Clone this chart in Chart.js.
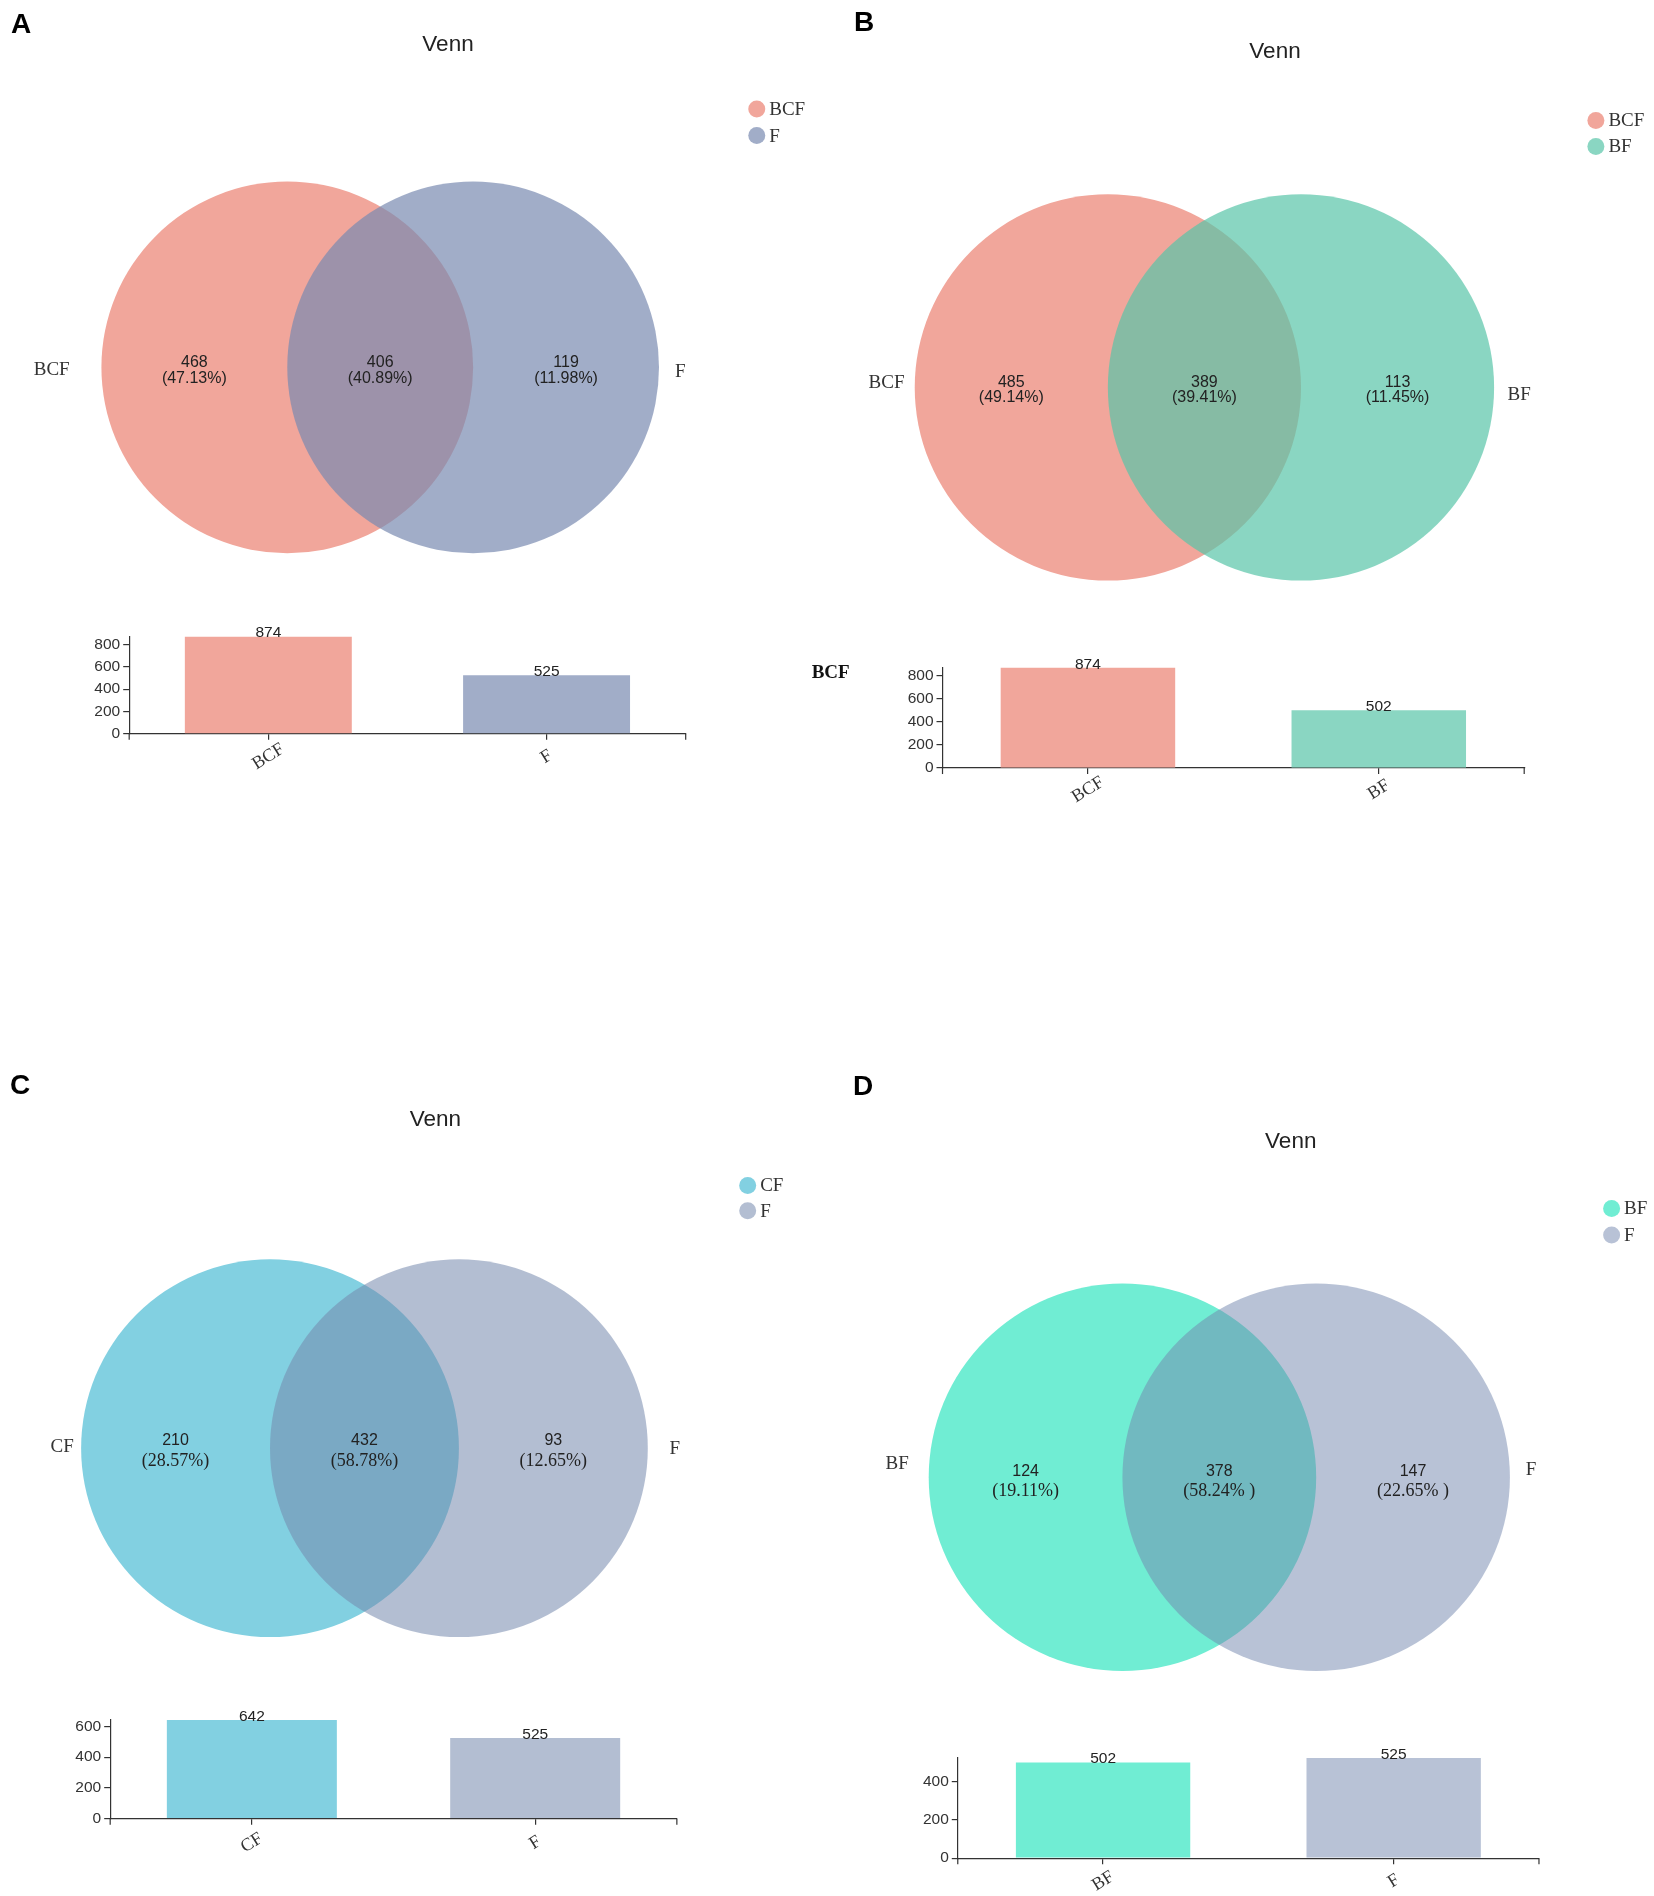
<!DOCTYPE html>
<html><head><meta charset="utf-8">
<script src="https://cdn.jsdelivr.net/npm/chart.js@4.4.1/dist/chart.umd.min.js"></script>
<style>
html,body{margin:0;padding:0;background:#fff;}
#root{position:relative;width:1654px;height:1896px;background:#fff;overflow:hidden;}
#root canvas{position:absolute;}
</style></head>
<body><div id="root"></div>
<script>
// ===== DATA =====
const setsA = ['BCF', 'F'];
const regionCountsA = [468, 406, 119];
const regionPctA = ['(47.13%)', '(40.89%)', '(11.98%)'];
const totalsA = [874, 525];
const yTicksA = [0, 200, 400, 600, 800];

const setsB = ['BCF', 'BF'];
const regionCountsB = [485, 389, 113];
const regionPctB = ['(49.14%)', '(39.41%)', '(11.45%)'];
const totalsB = [874, 502];
const yTicksB = [0, 200, 400, 600, 800];

const setsC = ['CF', 'F'];
const regionCountsC = [210, 432, 93];
const regionPctC = ['(28.57%)', '(58.78%)', '(12.65%)'];
const totalsC = [642, 525];
const yTicksC = [0, 200, 400, 600];

const setsD = ['BF', 'F'];
const regionCountsD = [124, 378, 147];
const regionPctD = ['(19.11%)', '(58.24% )', '(22.65% )'];
const totalsD = [502, 525];
const yTicksD = [0, 200, 400];

const panelLetters = ['A', 'B', 'C', 'D'];
const chartTitle = 'Venn';
const strayLabelB = 'BCF';

// ===== STYLE / LAYOUT =====
const S = 1654 / 1366;
const SANS = '"Liberation Sans", Arial, sans-serif';
const SERIF = '"Liberation Serif", "Times New Roman", serif';
const INK = '#333';

const panels = [
  { letter: panelLetters[0], sets: setsA, counts: regionCountsA, pct: regionPctA, totals: totalsA, yTicks: yTicksA,
    colors: ['#F1A69B', '#A1ADC8'], vennColors: ['#F1A69B', 'rgba(121,138,176,0.7)'],
    L: { canvas: [0, 0, 827, 948], letterPos: [21, 25], title: [370, 37], legend: { x: 625, y: [90, 112] },
         venn: { cx: 314, cy: 303.4, r: 153.5 }, innerDy: [-4.2, 8.9], sideL: [57.5, 306], sideR: [557.5, 307],
         bar: { left: 106.7, right: 566.3, top: 525.6, zero: 606, labelDy: 19 }, pctSerif: false } },
  { letter: panelLetters[1], sets: setsB, counts: regionCountsB, pct: regionPctB, totals: totalsB, yTicks: yTicksB,
    colors: ['#F1A69B', '#8AD6C2'], vennColors: ['#F1A69B', 'rgba(88,196,168,0.7)'],
    L: { canvas: [800, 0, 854, 948], letterPos: [864, 23], title: [1053, 43], legend: { x: 1318, y: [99.5, 121] },
         venn: { cx: 994.7, cy: 320, r: 159.5 }, innerDy: [-4.4, 8.3], sideL: [747, 316.5], sideR: [1245, 326],
         bar: { left: 778.4, right: 1258.8, top: 551.3, zero: 634.3, labelDy: 18 }, pctSerif: false,
         stray: [686, 556] } },
  { letter: panelLetters[2], sets: setsC, counts: regionCountsC, pct: regionPctC, totals: totalsC, yTicks: yTicksC,
    colors: ['#82D0E1', '#B3BED2'], vennColors: ['#82D0E1', 'rgba(117,137,173,0.55)'],
    L: { canvas: [0, 948, 827, 948], letterPos: [20, 1086], title: [359.5, 925], legend: { x: 617.5, y: [979, 1000] },
         venn: { cx: 301, cy: 1196, r: 156 }, innerDy: [-6, 11], sideL: [61, 1195], sideR: [553, 1196.5],
         bar: { left: 91, right: 559, top: 1420.5, zero: 1502, labelDy: 20 }, pctSerif: true } },
  { letter: panelLetters[3], sets: setsD, counts: regionCountsD, pct: regionPctD, totals: totalsD, yTicks: yTicksD,
    colors: ['#70EDD3', '#B8C2D6'], vennColors: ['#70EDD3', 'rgba(113,133,173,0.5)'],
    L: { canvas: [827, 948, 827, 948], letterPos: [863, 1087], title: [1066, 943], legend: { x: 1331, y: [998, 1020] },
         venn: { cx: 1007, cy: 1220, r: 160 }, innerDy: [-5, 11.5], sideL: [750.5, 1209], sideR: [1260, 1214],
         bar: { left: 791, right: 1271, top: 1451.9, zero: 1534.6, labelDy: 19 }, pctSerif: true } }
];

const root = document.getElementById('root');
function addCanvas(x, y, w, h) {
  const c = document.createElement('canvas');
  c.width = Math.round(w); c.height = Math.round(h);
  c.style.left = Math.round(x) + 'px'; c.style.top = Math.round(y) + 'px';
  c.style.width = Math.round(w) + 'px'; c.style.height = Math.round(h) + 'px';
  root.appendChild(c);
  return c;
}

// ===== VENN DECORATION PLUGIN =====
const vennDecor = {
  id: 'vennDecor',
  afterDraw(chart, args, o) {
    const p = o.panel, L = p.L;
    const ox = Math.round(L.canvas[0]), oy = Math.round(L.canvas[1]);
    const P = (x, y) => [x * S - ox, y * S - oy];
    const ctx = chart.ctx;
    ctx.save();
    // panel letter
    ctx.fillStyle = '#000';
    ctx.font = 'bold 28px ' + SANS;
    ctx.textAlign = 'center'; ctx.textBaseline = 'middle';
    ctx.fillText(p.letter, L.letterPos[0] - ox, L.letterPos[1] - oy);
    // title
    ctx.fillStyle = '#222';
    ctx.font = '22.5px ' + SANS;
    let [tx, ty] = P(L.title[0], L.title[1]);
    ctx.fillText(chartTitle, tx, ty);
    // legend
    p.sets.forEach((name, i) => {
      const [lx, ly] = P(L.legend.x, L.legend.y[i]);
      ctx.beginPath(); ctx.arc(lx, ly, 8.5, 0, Math.PI * 2);
      ctx.fillStyle = p.colors[i]; ctx.fill();
      ctx.fillStyle = INK; ctx.font = '19px ' + SERIF;
      ctx.textAlign = 'left'; ctx.textBaseline = 'middle';
      ctx.fillText(name, lx + 12.5, ly + 1);
    });
    // side labels
    ctx.font = '19px ' + SERIF; ctx.fillStyle = INK; ctx.textBaseline = 'middle';
    let [sx, sy] = P(L.sideL[0], L.sideL[1]);
    ctx.textAlign = 'right'; ctx.fillText(p.sets[0], sx, sy);
    [sx, sy] = P(L.sideR[0], L.sideR[1]);
    ctx.textAlign = 'left'; ctx.fillText(p.sets[1], sx, sy);
    // region labels via scales
    const xs = chart.scales.x, ys = chart.scales.y;
    const regionX = [-1, 0, 1];
    ctx.textAlign = 'center';
    regionX.forEach((rx, i) => {
      const px = xs.getPixelForValue(rx), py = ys.getPixelForValue(0);
      ctx.fillStyle = '#222';
      ctx.font = '16px ' + SANS;
      ctx.fillText(String(p.counts[i]), px, py + L.innerDy[0] * S);
      ctx.font = L.pctSerif ? ('18px ' + SERIF) : ('16px ' + SANS);
      ctx.fillText(p.pct[i], px, py + L.innerDy[1] * S);
    });
    // stray label
    if (L.stray) {
      const [bx, by] = P(L.stray[0], L.stray[1]);
      ctx.font = 'bold 19px ' + SERIF; ctx.fillStyle = '#111';
      ctx.textAlign = 'center';
      ctx.fillText(strayLabelB, bx, by);
    }
    ctx.restore();
  }
};

function makeVenn(p) {
  const L = p.L;
  const cv = addCanvas(L.canvas[0], L.canvas[1], L.canvas[2], L.canvas[3]);
  const ox = Math.round(L.canvas[0]), oy = Math.round(L.canvas[1]);
  const w = cv.width, h = cv.height;
  const rPx = L.venn.r * S;
  const cx = L.venn.cx * S - ox, cy = L.venn.cy * S - oy;
  const radiusFn = (c) => {
    const s = c.chart.scales.x;
    return s.getPixelForValue(1) - s.getPixelForValue(0);
  };
  new Chart(cv, {
    type: 'scatter',
    data: {
      datasets: [
        { label: p.sets[0], data: [{ x: -0.5, y: 0 }], backgroundColor: p.vennColors[0], borderWidth: 0,
          pointRadius: radiusFn, pointBorderWidth: 0, order: 2, clip: false },
        { label: p.sets[1], data: [{ x: 0.5, y: 0 }], backgroundColor: p.vennColors[1], borderWidth: 0,
          pointRadius: radiusFn, pointBorderWidth: 0, order: 1, clip: false }
      ]
    },
    options: {
      responsive: false, animation: false, events: [],
      layout: { padding: 0 },
      scales: {
        x: { type: 'linear', display: false, min: -cx / rPx, max: (w - cx) / rPx },
        y: { type: 'linear', display: false, min: -(h - cy) / rPx, max: cy / rPx }
      },
      plugins: { legend: { display: false }, tooltip: { enabled: false }, title: { display: false },
                 vennDecor: { panel: p } }
    },
    plugins: [vennDecor]
  });
}

// ===== BAR DECORATION PLUGIN =====
const barDecor = {
  id: 'barDecor',
  afterDraw(chart, args, o) {
    const p = o.panel, ctx = chart.ctx, ca = chart.chartArea;
    const xs = chart.scales.x;
    ctx.save();
    // end ticks
    ctx.strokeStyle = INK; ctx.lineWidth = 1.2;
    [ca.left, ca.right].forEach(x => {
      ctx.beginPath(); ctx.moveTo(x, ca.bottom); ctx.lineTo(x, ca.bottom + 6); ctx.stroke();
    });
    // value labels
    const meta = chart.getDatasetMeta(0);
    ctx.fillStyle = '#222'; ctx.font = '15.5px ' + SANS;
    ctx.textAlign = 'center'; ctx.textBaseline = 'alphabetic';
    meta.data.forEach((el, i) => {
      ctx.fillText(String(p.totals[i]), el.x, el.y + 1);
    });
    // rotated category labels
    ctx.font = '18px ' + SERIF; ctx.fillStyle = INK;
    ctx.textBaseline = 'middle';
    p.sets.forEach((name, i) => {
      const x = xs.getPixelForValue(i);
      ctx.save();
      ctx.translate(x, ca.bottom + p.L.bar.labelDy * S);
      ctx.rotate(-32 * Math.PI / 180);
      ctx.fillText(name, 0, 0);
      ctx.restore();
    });
    ctx.restore();
  }
};

function makeBar(p) {
  const b = p.L.bar;
  const padL = 70, padR = 15, padT = 30, padB = 45;
  const x0 = Math.round((b.left - padL) * S), y0 = Math.round((b.top - padT) * S);
  const x1 = Math.round((b.right + padR) * S), y1 = Math.round((b.zero + padB) * S);
  const cv = addCanvas(x0, y0, x1 - x0, y1 - y0);
  const yW = b.left * S - x0;
  const topPad = b.top * S - y0;
  const rightPad = x1 - b.right * S;
  const xH = y1 - b.zero * S;
  new Chart(cv, {
    type: 'bar',
    data: {
      labels: p.sets,
      datasets: [{ data: p.totals, backgroundColor: p.colors, borderWidth: 0,
                   barPercentage: 0.6, categoryPercentage: 1 }]
    },
    options: {
      responsive: false, animation: false, events: [],
      layout: { padding: { left: 0, right: rightPad, top: topPad, bottom: 0 } },
      scales: {
        x: {
          type: 'category', offset: true,
          grid: { offset: false, drawOnChartArea: false, drawTicks: true, tickLength: 6, color: INK, lineWidth: 1.2 },
          border: { display: true, color: INK, width: 1.2 },
          ticks: { display: false },
          afterFit: (s) => { s.height = xH; }
        },
        y: {
          min: 0, max: Math.max(...p.totals),
          afterBuildTicks: (s) => { s.ticks = p.yTicks.map(v => ({ value: v })); },
          grid: { drawOnChartArea: false, drawTicks: true, tickLength: 6, color: INK, lineWidth: 1.2 },
          border: { display: true, color: INK, width: 1.2 },
          ticks: { color: INK, font: { family: SANS, size: 15.5 }, padding: 3, includeBounds: false },
          afterFit: (s) => { s.width = yW; }
        }
      },
      plugins: { legend: { display: false }, tooltip: { enabled: false }, title: { display: false },
                 barDecor: { panel: p } }
    },
    plugins: [barDecor]
  });
}

panels.forEach(p => { makeVenn(p); });
panels.forEach(p => { makeBar(p); });
</script>
</body></html>
